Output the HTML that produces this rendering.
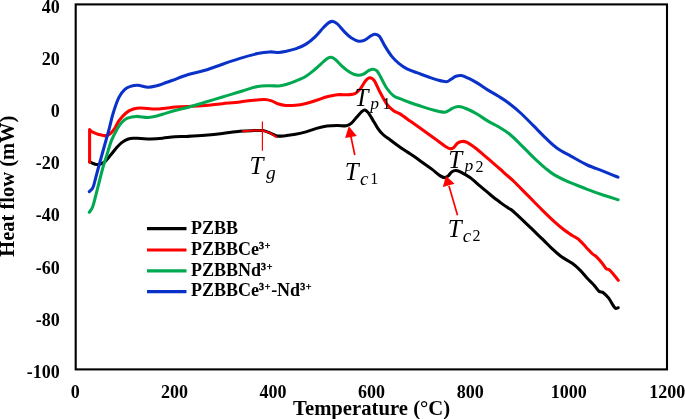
<!DOCTYPE html>
<html><head><meta charset="utf-8"><title>DSC curves</title>
<style>
html,body{margin:0;padding:0;background:#fff;}
body{width:685px;height:419px;overflow:hidden;}
svg{display:block;will-change:transform;}
text{font-family:"Liberation Serif","DejaVu Serif",serif;}
.b{font-weight:bold;font-size:18px;fill:#000;}
.c{fill:none;stroke-width:3.05;stroke-linecap:round;stroke-linejoin:round;}
.m{font-style:italic;fill:#000;}
</style></head><body>
<svg width="685" height="419" viewBox="0 0 685 419">
<rect x="0" y="0" width="685" height="419" fill="#fff"/>
<rect x="75.7" y="4.4" width="591.3" height="365" fill="none" stroke="#000" stroke-width="2.1"/>
<g class="b"><text x="59.8" y="12.8" text-anchor="end">40</text><text x="59.8" y="64.9" text-anchor="end">20</text><text x="59.8" y="117.1" text-anchor="end">0</text><text x="59.8" y="169.2" text-anchor="end">-20</text><text x="59.8" y="221.4" text-anchor="end">-40</text><text x="59.8" y="273.5" text-anchor="end">-60</text><text x="59.8" y="325.6" text-anchor="end">-80</text><text x="59.8" y="377.8" text-anchor="end">-100</text><text x="75.2" y="398" text-anchor="middle">0</text><text x="174.6" y="398" text-anchor="middle">200</text><text x="273.1" y="398" text-anchor="middle">400</text><text x="371.6" y="398" text-anchor="middle">600</text><text x="470.2" y="398" text-anchor="middle">800</text><text x="568.7" y="398" text-anchor="middle">1000</text><text x="667.3" y="398" text-anchor="middle">1200</text></g>
<text class="b" style="font-size:20.7px" x="371.6" y="415.2" text-anchor="middle">Temperature (°C)</text>
<text class="b" style="font-size:20.5px" transform="translate(14.4,186.2) rotate(-90)" text-anchor="middle">Heat flow (mW)</text>
<path class="c" stroke="#000" d="M89.6 161.6C90.3 162.0 92.5 163.3 94.0 163.8C95.5 164.3 96.7 164.8 98.4 164.5C100.1 164.2 102.3 163.8 104.2 162.3C106.1 160.9 108.0 158.1 110.0 155.8C112.0 153.5 114.0 150.7 115.9 148.5C117.9 146.3 119.8 144.1 121.7 142.6C123.7 141.1 125.6 140.0 127.6 139.3C129.5 138.6 131.2 138.3 133.4 138.2C135.6 138.1 137.8 138.4 140.7 138.5C143.6 138.6 147.2 139.1 150.9 139.0C154.6 138.9 158.6 138.6 162.6 138.2C166.6 137.8 170.8 137.1 175.0 136.8C179.2 136.5 182.5 136.7 187.5 136.4C192.5 136.1 199.2 135.7 205.0 135.2C210.8 134.7 216.7 134.1 222.5 133.4C228.3 132.7 234.8 131.7 240.0 131.2C245.2 130.7 250.2 130.7 254.0 130.6C257.8 130.5 260.2 130.2 262.8 130.6C265.4 131.0 267.5 132.0 269.8 132.9C272.1 133.8 274.5 135.4 276.8 135.9C279.1 136.4 281.6 136.1 283.8 135.9C286.0 135.7 288.1 135.2 290.0 134.9C291.9 134.6 292.8 134.8 295.5 134.3C298.2 133.8 302.5 132.9 306.0 131.9C309.5 130.9 313.0 129.4 316.5 128.4C320.0 127.4 323.5 126.6 327.0 126.1C330.5 125.6 334.3 125.5 337.5 125.4C340.7 125.4 344.0 126.2 346.3 125.8C348.6 125.4 349.8 124.6 351.5 123.1C353.2 121.6 355.1 119.0 356.8 117.0C358.6 115.0 360.7 112.6 362.0 111.4C363.3 110.2 363.7 109.8 364.7 110.0C365.7 110.2 366.9 111.0 368.2 112.6C369.5 114.2 371.0 117.0 372.6 119.6C374.2 122.2 376.1 125.9 377.8 128.4C379.5 130.9 381.0 132.6 383.0 134.5C385.0 136.4 387.7 138.1 390.0 139.8C392.3 141.6 394.5 143.2 397.0 145.0C399.5 146.8 402.8 149.1 405.0 150.6C407.2 152.1 407.8 152.2 410.5 154.0C413.2 155.8 417.5 158.9 421.0 161.4C424.5 163.9 428.3 166.5 431.5 168.9C434.7 171.3 438.1 174.5 440.3 175.9C442.5 177.3 443.4 177.6 444.7 177.6C446.0 177.6 447.0 176.8 448.2 175.9C449.4 175.0 450.4 172.8 451.7 171.9C453.0 171.0 454.4 170.5 456.0 170.6C457.6 170.7 459.0 171.2 461.3 172.4C463.6 173.6 466.8 175.3 470.0 177.6C473.2 179.9 477.0 183.5 480.5 186.4C484.0 189.3 487.7 192.5 491.0 195.2C494.3 197.9 497.6 200.4 500.5 202.6C503.4 204.8 506.7 207.0 508.6 208.3C510.6 209.6 510.3 208.9 512.2 210.5C514.1 212.1 517.0 214.8 520.0 217.6C523.0 220.4 526.2 223.5 530.0 227.2C533.8 230.9 539.3 236.0 543.0 239.6C546.7 243.2 548.9 245.7 552.0 248.6C555.1 251.5 558.1 254.4 561.5 256.8C564.9 259.2 569.0 261.0 572.2 263.3C575.4 265.6 578.3 268.3 580.8 270.8C583.3 273.3 585.1 276.0 587.2 278.3C589.3 280.6 591.6 282.6 593.6 284.7C595.6 286.8 597.4 289.9 599.0 291.2C600.6 292.5 601.7 291.5 603.3 292.7C604.9 293.9 607.1 296.1 608.7 298.2C610.3 300.3 611.9 303.4 613.0 305.1C614.1 306.8 614.6 307.9 615.5 308.3C616.4 308.7 617.8 307.8 618.3 307.7"/>
<path class="c" stroke="#ff0000" d="M89.6 162.3L89.6 129.5L91.6 131.6L98 134.3L104.5 135.7"/>
<path class="c" stroke="#ff0000" d="M104.5 135.7C105.0 135.7 106.3 135.8 107.2 135.5C108.1 135.2 108.8 135.0 110.0 133.9C111.2 132.8 112.9 131.0 114.4 128.8C115.9 126.7 116.9 123.6 118.8 121.0C120.7 118.4 123.6 115.0 126.0 113.0C128.4 111.0 131.0 109.8 133.4 109.0C135.8 108.2 137.0 108.0 140.7 108.0C144.3 108.0 151.2 109.0 155.3 109.0C159.4 109.0 162.2 108.5 165.5 108.2C168.8 107.9 171.3 107.3 175.0 107.0C178.7 106.7 182.5 106.9 187.5 106.6C192.5 106.3 199.2 105.9 205.0 105.4C210.8 104.9 216.7 104.3 222.5 103.7C228.3 103.1 234.8 102.5 240.0 101.9C245.2 101.3 249.9 100.6 254.0 100.2C258.1 99.8 261.7 99.5 264.6 99.6C267.5 99.7 269.3 100.2 271.6 100.9C273.9 101.6 276.3 103.2 278.6 104.0C280.9 104.8 282.8 105.2 285.6 105.4C288.4 105.6 292.1 105.5 295.5 105.2C298.9 104.9 302.5 104.2 306.0 103.4C309.5 102.6 313.0 101.4 316.5 100.3C320.0 99.2 323.5 97.7 327.0 96.8C330.5 95.9 334.0 95.0 337.5 94.7C341.0 94.4 345.1 94.9 348.0 94.7C350.9 94.5 352.9 94.6 355.0 93.6C357.1 92.6 358.5 91.1 360.3 88.9C362.1 86.8 364.0 82.6 365.6 80.7C367.2 78.8 368.4 77.7 369.9 77.7C371.3 77.7 372.7 78.4 374.3 80.7C375.9 83.0 377.6 87.7 379.6 91.5C381.7 95.3 384.3 100.6 386.6 103.8C388.9 107.0 391.4 109.1 393.6 110.8C395.8 112.5 397.2 112.2 400.0 113.9C402.8 115.7 406.7 118.6 410.5 121.3C414.3 124.0 418.7 127.1 422.8 130.0C426.9 132.9 431.2 136.1 435.0 138.8C438.8 141.6 442.9 144.8 445.5 146.5C448.1 148.2 449.0 148.6 450.4 148.8C451.8 149.0 452.6 148.4 453.8 147.5C455.0 146.6 456.1 144.2 457.4 143.2C458.7 142.2 460.2 141.5 461.8 141.4C463.4 141.3 464.9 141.4 467.0 142.4C469.1 143.4 471.7 145.3 474.4 147.3C477.1 149.3 479.9 151.7 483.0 154.3C486.1 156.9 490.0 160.4 492.8 162.8C495.6 165.2 498.0 167.2 500.0 169.0C502.0 170.8 502.7 171.5 505.0 173.6C507.3 175.7 510.2 177.8 514.0 181.5C517.8 185.2 523.3 191.0 528.0 195.7C532.7 200.4 537.6 205.5 542.0 209.8C546.4 214.1 550.8 218.4 554.3 221.6C557.8 224.8 560.1 226.7 563.0 229.0C565.9 231.3 569.3 233.6 571.8 235.3C574.3 237.0 575.8 237.0 578.2 239.0C580.6 241.0 583.7 244.7 586.1 247.2C588.5 249.7 591.0 252.5 592.6 254.0C594.2 255.5 594.2 254.6 595.8 256.2C597.4 257.8 600.5 261.2 602.2 263.3C603.9 265.4 605.0 267.5 606.1 268.6C607.2 269.7 607.8 268.6 609.1 269.7C610.4 270.8 612.5 273.3 614.0 275.1C615.5 276.9 617.6 279.5 618.3 280.4"/>
<path class="c" stroke="#00a850" d="M89.3 212.3C89.8 211.5 91.5 209.8 92.5 207.2C93.5 204.6 94.2 201.5 95.4 197.0C96.6 192.5 98.4 185.1 99.7 180.0C101.0 174.9 102.1 170.4 103.2 166.5C104.3 162.6 105.0 160.8 106.4 156.5C107.8 152.2 109.7 145.0 111.5 140.4C113.3 135.8 115.6 131.8 117.3 128.8C119.0 125.8 120.0 124.3 121.7 122.5C123.4 120.7 125.1 119.2 127.5 118.2C129.9 117.2 132.9 116.5 136.3 116.4C139.7 116.3 144.6 117.5 148.0 117.4C151.4 117.3 153.9 116.7 156.8 116.0C159.7 115.3 162.5 114.3 165.5 113.4C168.5 112.5 171.3 111.5 175.0 110.5C178.7 109.5 182.5 108.9 187.5 107.5C192.5 106.1 199.2 104.0 205.0 102.3C210.8 100.5 216.7 98.8 222.5 97.0C228.3 95.2 234.2 93.6 240.0 91.8C245.8 90.0 252.6 87.4 257.6 86.4C262.6 85.4 266.3 85.8 269.8 85.7C273.3 85.6 275.9 86.2 278.6 86.0C281.3 85.8 283.2 85.3 286.0 84.5C288.8 83.7 292.2 82.6 295.5 81.2C298.8 79.8 302.8 78.2 306.0 76.2C309.2 74.2 311.9 71.9 314.8 69.5C317.7 67.1 321.3 63.6 323.5 61.7C325.7 59.8 326.6 58.9 327.9 58.2C329.2 57.5 330.1 57.0 331.4 57.3C332.7 57.6 333.9 58.3 335.8 59.9C337.7 61.5 340.5 64.9 342.8 66.9C345.1 69.0 347.5 70.8 349.8 72.2C352.1 73.6 354.6 74.7 356.8 75.1C359.0 75.5 360.9 75.2 362.9 74.4C364.9 73.6 367.2 71.3 369.0 70.4C370.8 69.5 372.1 69.1 373.4 69.2C374.7 69.3 375.7 69.7 376.9 70.9C378.1 72.1 378.8 73.7 380.4 76.5C382.0 79.3 384.4 84.8 386.6 88.0C388.8 91.2 391.4 94.1 393.6 95.9C395.8 97.7 397.2 97.4 400.0 98.6C402.8 99.8 406.7 101.4 410.5 102.8C414.3 104.2 418.7 105.6 422.8 106.9C426.9 108.2 431.4 109.5 435.0 110.4C438.6 111.3 442.2 112.3 444.7 112.2C447.2 112.1 448.1 110.7 449.9 109.8C451.6 108.9 453.4 107.6 455.2 107.1C456.9 106.6 458.2 106.3 460.4 106.7C462.6 107.1 465.5 108.3 468.3 109.5C471.1 110.7 473.8 112.1 477.0 114.0C480.2 115.9 484.1 118.8 487.6 120.9C491.1 123.0 494.4 124.3 498.0 126.5C501.6 128.7 505.6 130.8 509.5 134.0C513.5 137.2 517.7 141.7 521.7 145.6C525.7 149.5 529.5 153.6 533.4 157.3C537.3 161.0 541.5 164.9 545.0 167.8C548.5 170.7 550.5 172.6 554.4 174.9C558.3 177.2 563.2 179.6 568.5 181.9C573.8 184.2 580.0 186.5 586.0 188.8C592.0 191.1 599.1 193.7 604.5 195.5C609.9 197.3 615.8 199.0 618.1 199.7"/>
<path class="c" stroke="#0a32c8" d="M89.3 191.6C89.8 191.1 91.7 189.5 92.5 188.3C93.3 187.2 93.2 187.1 93.9 184.7C94.6 182.3 95.9 177.1 96.8 173.7C97.7 170.2 98.4 167.8 99.4 164.0C100.4 160.2 101.5 156.5 103.0 151.0C104.5 145.5 106.9 137.2 108.6 131.0C110.3 124.8 111.3 119.3 113.0 113.8C114.7 108.2 116.9 101.7 118.8 97.7C120.7 93.7 122.6 91.6 124.6 89.7C126.5 87.8 128.3 87.1 130.5 86.4C132.7 85.7 134.9 85.2 137.8 85.3C140.7 85.4 144.8 87.1 148.0 87.2C151.2 87.3 153.9 86.5 156.8 85.8C159.7 85.1 163.0 83.7 165.5 82.8C168.0 81.9 168.3 81.8 172.0 80.5C175.7 79.2 182.0 76.4 187.5 74.7C193.0 73.0 199.2 72.0 205.0 70.3C210.8 68.5 216.7 66.2 222.5 64.2C228.3 62.2 234.2 60.2 240.0 58.4C245.8 56.6 252.6 54.7 257.6 53.6C262.6 52.5 266.3 52.1 269.8 51.9C273.3 51.7 276.1 52.5 278.6 52.4C281.1 52.3 282.2 52.1 285.0 51.5C287.8 50.9 292.0 50.1 295.5 48.9C299.0 47.7 302.8 46.1 306.0 44.1C309.2 42.1 311.9 39.9 314.8 37.1C317.7 34.3 321.2 29.9 323.5 27.5C325.8 25.1 327.2 23.6 328.8 22.6C330.4 21.6 331.8 21.2 333.2 21.4C334.6 21.6 335.6 22.2 337.5 24.0C339.4 25.8 342.2 29.6 344.5 31.9C346.8 34.2 349.1 36.5 351.5 38.0C353.9 39.5 356.4 40.9 358.6 41.2C360.8 41.6 362.7 41.0 364.7 40.1C366.7 39.2 369.1 36.9 370.8 35.9C372.6 34.9 373.7 34.1 375.2 34.2C376.7 34.3 378.0 34.7 379.6 36.6C381.2 38.5 382.8 42.6 384.8 45.9C386.8 49.2 389.5 53.5 391.8 56.4C394.1 59.3 396.3 61.3 398.8 63.4C401.3 65.5 403.9 67.3 407.0 68.9C410.1 70.5 414.0 71.6 417.5 72.9C421.0 74.2 424.5 75.6 428.0 76.8C431.5 78.0 435.4 79.5 438.5 80.3C441.6 81.1 444.3 81.8 446.4 81.7C448.4 81.6 449.2 80.3 450.8 79.4C452.4 78.5 454.2 76.9 456.0 76.3C457.8 75.7 459.2 75.3 461.3 75.6C463.4 75.9 465.7 77.0 468.3 78.2C470.9 79.4 473.8 81.0 477.0 82.9C480.2 84.9 484.1 87.7 487.6 89.9C491.1 92.1 494.5 93.8 498.0 96.0C501.5 98.2 504.7 100.0 508.6 103.0C512.6 106.0 517.6 110.2 521.7 114.0C525.8 117.8 529.5 121.8 533.4 125.7C537.3 129.6 541.1 133.7 545.0 137.4C548.9 141.1 552.5 144.9 556.8 148.0C561.1 151.1 565.7 153.3 570.8 156.1C575.9 158.9 581.7 162.5 587.2 165.0C592.7 167.5 598.5 169.3 603.6 171.3C608.7 173.3 615.6 176.2 618.0 177.2"/>
<!-- Tg marker -->
<path d="M242.7 131.2L254 130.6L262.8 130.6L269.8 132.9L276 136.9" fill="none" stroke="#ff0000" stroke-width="2" stroke-linecap="round" stroke-linejoin="round"/>
<path d="M262.4 121.6V150.8" stroke="#ff0000" stroke-width="1.2" fill="none"/>
<!-- arrows -->
<path d="M354.8 155L350.9 136.5" stroke="#ff0000" stroke-width="1.7" fill="none"/>
<path d="M348.8 126.2L345.1 138L356.8 136Z" fill="#ff0000"/>
<path d="M457.5 215.3L449 186" stroke="#ff0000" stroke-width="1.7" fill="none"/>
<path d="M446 176.1L442.8 187L454.6 183.7Z" fill="#ff0000"/>
<!-- math labels -->
<text class="m" x="249.6" y="174.4" font-size="25">T<tspan font-size="19.5" dx="2.4" dy="4.6">g</tspan></text>
<text class="m" x="354.6" y="105.5" font-size="25">T<tspan font-size="17.5" dx="1.8" dy="3.4">p</tspan><tspan font-size="16" font-style="normal" dx="3.4" dy="0.4">1</tspan></text>
<text class="m" x="344.8" y="180" font-size="25">T<tspan font-size="19" dx="1.4" dy="4.8">c</tspan><tspan font-size="16" font-style="normal" dx="1.6" dy="-0.4">1</tspan></text>
<text class="m" x="448.2" y="167.7" font-size="25">T<tspan font-size="17.5" dx="2.4" dy="3.4">p</tspan><tspan font-size="16" font-style="normal" dx="2.2" dy="0.4">2</tspan></text>
<text class="m" x="447.7" y="237" font-size="25">T<tspan font-size="19" dx="1.2" dy="4.8">c</tspan><tspan font-size="16" font-style="normal" dx="1.2" dy="-0.6">2</tspan></text>
<!-- legend -->
<g fill="none" stroke-width="3.2" stroke-linecap="butt">
<path stroke="#000" d="M147 228.7H186.5"/>
<path stroke="#ff0000" d="M147 250H186.5"/>
<path stroke="#00a850" d="M147 270.8H186.5"/>
<path stroke="#0a32c8" d="M147 291.7H186.5"/>
</g>
<g class="b">
<text x="191" y="234">PZBB</text>
<text x="191" y="255">PZBBCe<tspan font-size="10" dy="-5.8" stroke="#000" stroke-width="0.35" letter-spacing="0.7">3+</tspan></text>
<text x="191" y="275.5">PZBBNd<tspan font-size="10" dy="-5.8" stroke="#000" stroke-width="0.35" letter-spacing="0.7">3+</tspan></text>
<text x="191" y="296">PZBBCe<tspan font-size="10" dy="-5.8" stroke="#000" stroke-width="0.35" letter-spacing="0.7">3+</tspan><tspan dy="5.8">-Nd</tspan><tspan font-size="10" dy="-5.8" stroke="#000" stroke-width="0.35" letter-spacing="0.7">3+</tspan></text>
</g>
</svg>
</body></html>
